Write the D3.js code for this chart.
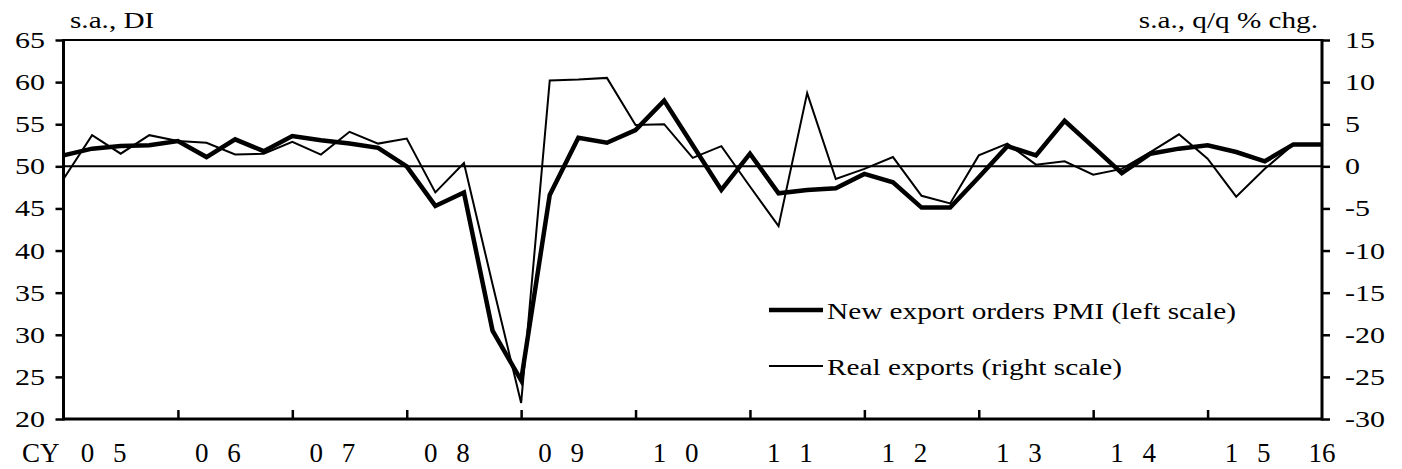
<!DOCTYPE html>
<html lang="en">
<head>
<meta charset="utf-8">
<title>New export orders PMI vs real exports</title>
<script src="https://d3js.org/d3.v7.min.js"></script>
<style>
  body { margin: 0; background: #fff; }
  text { font-family: "Liberation Serif", "Times New Roman", serif; fill: #000; }
  .axis .domain { display: none; }
  .axis line { stroke: #000; stroke-width: 2.5px; }
  .line { fill: none; stroke: #000; stroke-linejoin: miter; }
</style>
</head>
<body>
<script>
// quarterly, CY2005 Q1 .. CY2016 Q1
var pmi = [51.3, 52.1, 52.4, 52.5, 53.0, 51.1, 53.2, 51.8, 53.6, 53.1, 52.7, 52.2,
           50.0, 45.3, 46.9, 30.5, 24.6, 46.6, 53.4, 52.8, 54.3, 57.8, 52.5, 47.2,
           51.5, 46.8, 47.2, 47.4, 49.1, 48.1, 45.1, 45.1, 48.7, 52.4, 51.3, 55.4,
           52.3, 49.2, 51.5, 52.1, 52.5, 51.7, 50.6, 52.6, 52.6];
var realExports = [-1.5, 3.7, 1.5, 3.7, 3.0, 2.8, 1.4, 1.5, 2.9, 1.4, 4.1, 2.7,
                   3.3, -3.1, 0.4, -14.0, -28.1, 10.2, 10.3, 10.5, 4.9, 5.0, 1.0, 2.4,
                   -2.4, -7.1, 8.7, -1.5, -0.3, 1.1, -3.5, -4.4, 1.3, 2.7, 0.2, 0.6,
                   -1.0, -0.3, 1.7, 3.8, 0.9, -3.6, -0.3, 2.6, 2.6];
var yearLabels = ["0 5", "0 6", "0 7", "0 8", "0 9", "1 0", "1 1", "1 2", "1 3", "1 4", "1 5"];
var lastLabel = "16";
var leftTicks = [20, 25, 30, 35, 40, 45, 50, 55, 60, 65];
var rightTicks = [-30, -25, -20, -15, -10, -5, 0, 5, 10, 15];
var seriesNames = ["New export orders PMI (left scale)", "Real exports (right scale)"];

var width = 1402, height = 469;
var plotL = 63.5, plotR = 1322, plotT = 40, plotB = 419;
var stretch = 1.25;   // text in the original is drawn wide

var svg = d3.select("body").append("svg")
    .attr("width", width)
    .attr("height", height);

var x = d3.scaleLinear().domain([0, pmi.length - 1]).range([plotL, plotR]);
var yL = d3.scaleLinear().domain([20, 65]).range([plotB, plotT]);
var yR = d3.scaleLinear().domain([-30, 15]).range([plotB, plotT]);

// wide text helper
function wtext(px, py, size, sx, anchor, str) {
    return svg.append("text")
        .attr("transform", "translate(" + px + "," + py + ") scale(" + sx + ",1)")
        .attr("text-anchor", anchor)
        .style("font-size", size + "px")
        .text(str);
}

// axes (ticks only, labels drawn below)
svg.append("g")
    .attr("class", "axis")
    .attr("transform", "translate(" + plotL + ",0)")
    .call(d3.axisLeft(yL).tickValues(leftTicks).tickSize(8).tickFormat(""));

svg.append("g")
    .attr("class", "axis")
    .attr("transform", "translate(" + plotR + ",0)")
    .call(d3.axisRight(yR).tickValues(rightTicks).tickSize(8).tickFormat(""));

svg.append("g")
    .attr("class", "axis")
    .attr("transform", "translate(0," + plotB + ")")
    .call(d3.axisBottom(x).tickValues(d3.range(4, 44, 4)).tickSize(-9).tickFormat(""));

leftTicks.forEach(function(v) { wtext(45, yL(v) + 8, 24, stretch, "end", v); });
rightTicks.forEach(function(v) { wtext(1345, yR(v) + 8, 24, stretch, "start", v); });

// frame + zero line
svg.append("line").attr("x1", plotL).attr("x2", plotR).attr("y1", plotT).attr("y2", plotT)
    .attr("stroke", "#000").attr("stroke-width", 2);
svg.append("line").attr("x1", plotL).attr("x2", plotR).attr("y1", yL(50)).attr("y2", yL(50))
    .attr("stroke", "#000").attr("stroke-width", 2);
svg.append("line").attr("x1", plotL).attr("x2", plotL).attr("y1", plotT - 1).attr("y2", plotB + 1.5)
    .attr("stroke", "#000").attr("stroke-width", 3);
svg.append("line").attr("x1", plotR).attr("x2", plotR).attr("y1", plotT - 1).attr("y2", plotB + 1.5)
    .attr("stroke", "#000").attr("stroke-width", 3);
svg.append("line").attr("x1", plotL).attr("x2", plotR).attr("y1", plotB).attr("y2", plotB)
    .attr("stroke", "#000").attr("stroke-width", 3);

// series
svg.append("path")
    .datum(realExports)
    .attr("class", "line")
    .attr("stroke-width", 2)
    .attr("d", d3.line().x(function(d, i) { return x(i); }).y(function(d) { return yR(d); }));

svg.append("path")
    .datum(pmi)
    .attr("class", "line")
    .attr("stroke-width", 4.5)
    .attr("d", d3.line().x(function(d, i) { return x(i); }).y(function(d) { return yL(d); }));

// axis titles
wtext(70, 28, 23, 1.27, "start", "s.a., DI");
wtext(1318, 28, 23, 1.27, "end", "s.a., q/q % chg.");

// x labels
svg.append("text").attr("x", 22).attr("y", 462).style("font-size", "27px").text("CY");
svg.selectAll(".yr")
    .data(yearLabels)
  .enter().append("text")
    .attr("class", "yr")
    .attr("x", function(d, i) { return x(i * 4 + 1.4) + 3; })
    .attr("y", 462)
    .attr("text-anchor", "middle")
    .style("font-size", "27px")
    .style("letter-spacing", "6px")
    .style("white-space", "pre")
    .text(function(d) { return d; });
svg.append("text").attr("x", plotR).attr("y", 462).attr("text-anchor", "middle")
    .style("font-size", "27px").text(lastLabel);

// legend
var legend = svg.append("g").attr("transform", "translate(769,310)");
[4.5, 2].forEach(function(w, i) {
    legend.append("line").attr("x1", 0).attr("x2", 54)
        .attr("y1", i * 56).attr("y2", i * 56)
        .attr("stroke", "#000").attr("stroke-width", w);
    wtext(827, 310 + i * 56 + 9, 24, 1.22, "start", seriesNames[i]);
});
</script>
</body>
</html>
